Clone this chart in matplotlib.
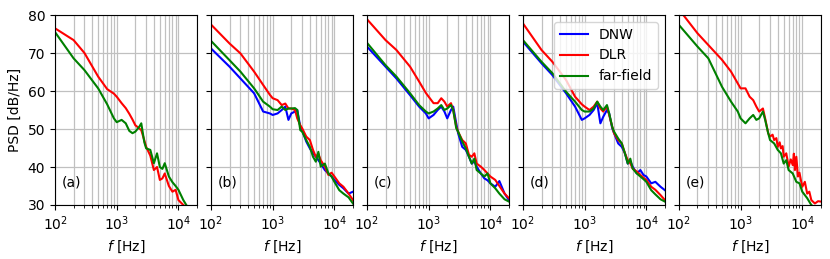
import matplotlib
matplotlib.use('Agg')
import matplotlib.pyplot as plt

# common frequency grid [Hz]
freq = [100, 200, 300, 500, 700, 900, 1000, 1200, 1400, 1600, 1800, 2000, 2300, 2500, 2800,
        3000, 3500, 4000, 4500, 5000, 5500, 6000, 7000, 8000, 9000, 10000, 12000, 14000, 17000, 20000]

# panel (a)
dlr_a = [76.5, 73.4, 70.0, 63.8, 60.5, 59.3, 58.5, 56.8, 55.5, 54.0, 52.5, 51.0, 50.2, 49.7, 47.0,
         45.3, 43.0, 39.2, 40.0, 36.6, 37.0, 38.3, 35.0, 33.5, 34.0, 31.3, 30.0, 29.0, 28.0, 27.0]
ff_a = [75.5, 68.6, 65.5, 60.7, 56.5, 52.8, 51.8, 52.4, 51.5, 49.5, 48.9, 49.3, 50.5, 51.5, 46.5,
        44.9, 44.5, 41.0, 43.6, 40.0, 39.5, 41.0, 37.5, 36.0, 35.0, 34.0, 31.3, 29.5, 28.0, 27.0]

# panel (b)
dnw_b = [71.2, 66.4, 63.3, 59.4, 54.6, 54.1, 53.7, 54.1, 55.0, 55.9, 52.4, 54.1, 54.6, 55.0, 50.6,
         49.7, 46.7, 44.9, 43.6, 42.7, 41.8, 40.9, 39.2, 38.3, 37.5, 36.6, 35.3, 34.4, 33.0, 33.5]
dlr_b = [77.5, 72.5, 69.9, 65.1, 61.6, 59.0, 58.1, 57.6, 56.3, 56.7, 55.4, 55.4, 55.0, 52.8, 51.0,
         50.2, 48.0, 47.1, 44.5, 42.7, 43.5, 41.8, 40.1, 37.9, 38.5, 37.5, 35.7, 34.8, 33.0, 31.3]
ff_b = [73.2, 68.1, 65.1, 60.7, 57.2, 55.9, 55.2, 55.0, 55.9, 55.0, 55.4, 55.4, 55.5, 55.0, 49.7,
        49.3, 47.1, 45.3, 42.7, 41.4, 44.0, 40.1, 40.9, 38.3, 37.5, 36.1, 33.9, 33.0, 32.0, 30.4]

# panel (c)
dnw_c = [71.7, 66.4, 63.3, 58.9, 55.9, 54.1, 52.8, 53.7, 55.0, 55.9, 54.6, 52.8, 55.0, 55.9, 51.5,
         48.9, 45.3, 44.5, 42.7, 40.9, 41.5, 40.1, 38.3, 37.0, 36.5, 35.7, 34.8, 36.3, 33.0, 31.3]
dlr_c = [78.9, 73.4, 70.8, 66.4, 62.5, 59.5, 58.5, 56.8, 56.8, 58.1, 57.2, 55.9, 56.8, 55.0, 50.6,
         49.3, 47.1, 46.2, 43.2, 42.7, 43.6, 40.9, 40.1, 39.2, 38.3, 37.5, 36.6, 35.0, 33.0, 31.8]
ff_c = [72.7, 66.8, 63.8, 59.4, 56.3, 54.6, 54.1, 54.6, 55.4, 56.3, 55.0, 55.4, 56.3, 55.0, 50.2,
        49.3, 46.7, 44.9, 42.7, 40.9, 42.2, 39.2, 38.3, 37.5, 38.3, 35.7, 34.4, 33.0, 31.5, 30.9]

# panel (d)
dnw_d = [73.0, 67.3, 64.2, 59.4, 55.9, 52.4, 52.8, 53.7, 55.0, 56.8, 51.5, 53.2, 55.0, 54.1, 50.2,
         48.9, 46.2, 45.3, 43.6, 40.9, 41.5, 40.1, 38.3, 39.2, 37.9, 37.5, 35.7, 36.1, 34.8, 33.9]
dlr_d = [77.8, 70.8, 67.7, 62.9, 58.5, 56.5, 55.9, 55.0, 55.9, 57.2, 55.4, 54.6, 55.9, 53.7, 50.6,
         48.9, 47.1, 46.2, 43.6, 41.8, 41.0, 39.6, 38.8, 37.9, 37.2, 36.6, 34.8, 34.0, 32.6, 31.3]
ff_d = [73.4, 67.7, 64.7, 59.8, 57.2, 55.0, 54.6, 54.6, 55.4, 57.2, 55.9, 55.0, 56.3, 54.1, 50.6,
        49.3, 47.5, 46.2, 43.6, 40.9, 42.2, 39.6, 38.3, 37.5, 36.8, 36.1, 33.9, 32.8, 31.5, 30.9]

# panel (e) - DLR is noisier, read on a finer grid
freq_e_dlr = [100, 200, 300, 500, 700, 900, 1000, 1200, 1400, 1600, 1800, 2000, 2300, 2500, 2800,
              3000, 3300, 3500, 3800, 4000, 4300, 4500, 4800, 5000, 5500, 5800, 6000, 6500, 7000,
              7300, 7600, 8000, 8500, 9000, 9500, 10000, 11000, 12000, 13000, 14000, 16000, 18000, 20000]
dlr_e = [81.5, 75.2, 72.1, 68.2, 65.1, 62.0, 60.7, 60.7, 58.5, 57.6, 55.9, 54.6, 55.4, 52.8, 48.9,
         48.0, 48.5, 47.1, 47.6, 45.3, 46.5, 44.9, 45.5, 42.7, 43.6, 41.5, 40.1, 42.0, 40.5,
         43.5, 39.2, 42.7, 37.5, 38.5, 36.5, 34.8, 36.1, 33.0, 33.5, 31.3, 30.4, 31.0, 30.9]
ff_e = [77.4, 71.7, 68.6, 61.1, 57.2, 54.6, 52.8, 51.5, 52.8, 53.7, 52.4, 52.8, 54.6, 52.4, 48.9,
        47.1, 46.2, 44.5, 43.6, 40.9, 41.8, 39.2, 38.3, 36.1, 35.7, 33.5, 31.8, 30.0, 29.0, 28.0]

panel_labels = ['(a)', '(b)', '(c)', '(d)', '(e)']
dnw_all = [None, dnw_b, dnw_c, dnw_d, None]
dlr_f_all = [freq, freq, freq, freq, freq_e_dlr]
dlr_all = [dlr_a, dlr_b, dlr_c, dlr_d, dlr_e]
ff_all = [ff_a, ff_b, ff_c, ff_d, ff_e]

plt.rcParams['font.size'] = 10

fig, axes = plt.subplots(1, 5, figsize=(8.3, 2.59), dpi=100, sharey=True)
fig.subplots_adjust(left=0.0663, right=0.989, bottom=0.2085, top=0.942, wspace=0.0986)

for i, ax in enumerate(axes):
    if dnw_all[i] is not None:
        ax.plot(freq, dnw_all[i], color='blue', lw=1.5, label='DNW')
    ax.plot(dlr_f_all[i], dlr_all[i], color='red', lw=1.5, label='DLR')
    ax.plot(freq, ff_all[i], color='green', lw=1.5, label='far-field')
    ax.set_xscale('log')
    ax.set_xlim(100, 20000)
    ax.set_ylim(30, 80)
    ax.set_yticks([30, 40, 50, 60, 70, 80])
    ax.grid(True, which='both', color='#c0c0c0', lw=0.9)
    ax.set_xlabel('$f$ [Hz]')
    ax.text(0.05, 0.1, panel_labels[i], transform=ax.transAxes, fontsize=10)

axes[0].set_ylabel('PSD [dB/Hz]')
axes[3].legend(loc='upper right')

plt.savefig('out.png', dpi=100)
